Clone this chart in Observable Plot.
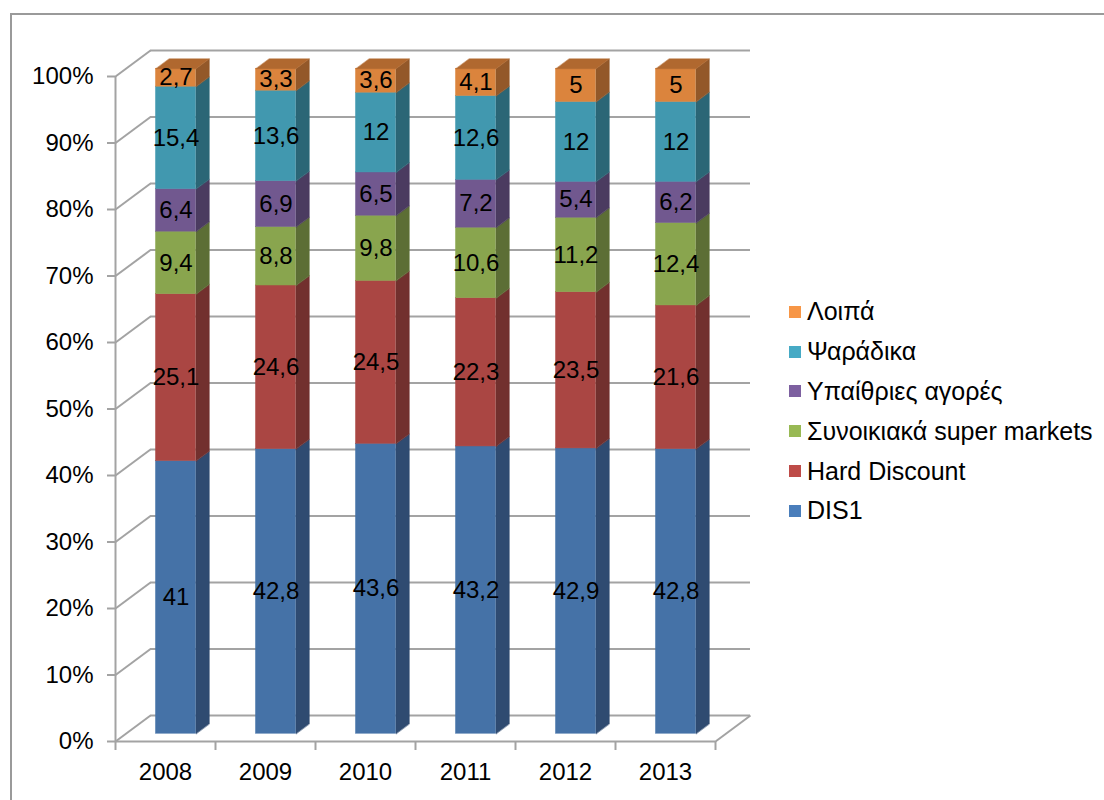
<!DOCTYPE html>
<html><head><meta charset="utf-8">
<script src="https://cdn.jsdelivr.net/npm/d3@7"></script>
<script src="https://cdn.jsdelivr.net/npm/@observablehq/plot@0.6"></script>
<style>
html,body{margin:0;padding:0;background:#fff;overflow:hidden;width:1104px;height:800px;}
#frame{position:absolute;left:10px;top:13px;width:1200px;height:900px;border:2px solid #9a9a9a;}
#chart{position:absolute;left:0;top:0;}
#legend{position:absolute;left:789px;top:292px;font-family:"Liberation Sans",Arial,sans-serif;font-size:25px;color:#000;}
.item{display:flex;align-items:center;height:39.8px;white-space:nowrap;}
.sw{width:12px;height:12px;margin-right:6px;flex:none;}
</style></head><body>
<div id="frame"></div>
<div id="chart"></div>
<div id="legend"></div>
<script>
// ---- data ----
const years = ["2008", "2009", "2010", "2011", "2012", "2013"];
const seriesNames = ["DIS1", "Hard Discount", "Συνοικιακά super markets", "Υπαίθριες αγορές", "Ψαράδικα", "Λοιπά"];
const dis1 =         [41, 42.8, 43.6, 43.2, 42.9, 42.8];
const hardDiscount = [25.1, 24.6, 24.5, 22.3, 23.5, 21.6];
const supermarkets = [9.4, 8.8, 9.8, 10.6, 11.2, 12.4];
const outdoor =      [6.4, 6.9, 6.5, 7.2, 5.4, 6.2];
const fishmongers =  [15.4, 13.6, 12, 12.6, 12, 12];
const other =        [2.7, 3.3, 3.6, 4.1, 5, 5];
const yTicks = [0, 10, 20, 30, 40, 50, 60, 70, 80, 90, 100];

// ---- styles ----
const frontColors = ["#4572A7", "#AA4643", "#89A54E", "#71588F", "#4198AF", "#DB843D"];
const sideColors  = ["#2F4B71", "#72302E", "#5C6E35", "#4B3B60", "#2B6676", "#935829"];
const topColors   = ["#5479AD", "#B25A57", "#93AD62", "#7E679A", "#56A3B7", "#B0682F"];
const legendColors = ["#4A7EBB", "#BE4B48", "#98B954", "#7D60A0", "#46AAC5", "#F79646"];
const gridColor = "#a3a3a3";

const values = [dis1, hardDiscount, supermarkets, outdoor, fishmongers, other];

// 3D geometry (in data units)
const DX = 0.35, DY = 3.9;       // wall depth
const BL = 0.3, BR = 0.7;        // bar extent inside its band
const F0 = 0.3, F1 = 0.68;       // bar front / back depth fraction

const fronts = [], sides = [], tops = [], labels = [];
years.forEach((yr, i) => {
  const total = d3.sum(values, s => s[i]);
  let acc = 0;
  values.forEach((s, k) => {
    const v = s[i] / total * 100;
    const y0 = acc, y1 = acc + v;
    acc = y1;
    fronts.push({x1: i + BL + F0 * DX, x2: i + BR + F0 * DX, y1: y0 + F0 * DY, y2: y1 + F0 * DY, fill: frontColors[k]});
    const id = `s${i}-${k}`;
    const xf = i + BR + F0 * DX, xb = i + BR + F1 * DX;
    sides.push({id, x: xf, y: y0 + F0 * DY, fill: sideColors[k]});
    sides.push({id, x: xf, y: y1 + F0 * DY, fill: sideColors[k]});
    sides.push({id, x: xb, y: y1 + F1 * DY, fill: sideColors[k]});
    sides.push({id, x: xb, y: y0 + F1 * DY, fill: sideColors[k]});
    labels.push({x: i + 0.5 + F0 * DX, y: (y0 + y1) / 2 + F0 * DY, text: String(s[i]).replace(".", ",")});
    if (k === values.length - 1) {
      const tid = `t${i}`;
      tops.push({id: tid, x: i + BL + F0 * DX, y: y1 + F0 * DY, fill: topColors[k]});
      tops.push({id: tid, x: i + BR + F0 * DX, y: y1 + F0 * DY, fill: topColors[k]});
      tops.push({id: tid, x: i + BR + F1 * DX, y: y1 + F1 * DY, fill: topColors[k]});
      tops.push({id: tid, x: i + BL + F1 * DX, y: y1 + F1 * DY, fill: topColors[k]});
    }
  });
});

const bandEdges = d3.range(years.length + 1);
const bandCenters = years.map((d, i) => i + 0.5);

const chart = Plot.plot({
  width: 1104,
  height: 800,
  marginLeft: 115,
  marginRight: 389,
  marginTop: 76,
  marginBottom: 59,
  x: {domain: [0, years.length]},
  y: {domain: [0, 100]},
  color: {type: "identity"},
  style: {fontFamily: "'Liberation Sans', Arial, sans-serif", fontSize: "24px", color: "#000", background: "transparent", overflow: "visible"},
  marks: [
    // back wall gridlines
    Plot.ruleY(yTicks, {y: d => d + DY, x1: DX, x2: years.length + DX, stroke: gridColor, strokeWidth: 2}),
    // side wall diagonals
    Plot.link(yTicks, {x1: 0, y1: d => d, x2: DX, y2: d => d + DY, stroke: gridColor, strokeWidth: 2}),
    // floor right edge
    Plot.link([0], {x1: years.length, y1: 0, x2: years.length + DX, y2: DY, stroke: gridColor, strokeWidth: 2}),
    // axis lines
    Plot.ruleX([0], {y1: 0, y2: 100, stroke: gridColor, strokeWidth: 2}),
    Plot.ruleY([0], {x1: 0, x2: years.length, stroke: gridColor, strokeWidth: 2}),
    // axes
    Plot.axisY(yTicks, {tickSize: 8, tickPadding: 14, tickFormat: d => d + "%", fontSize: 24, stroke: gridColor, strokeWidth: 2}),
    Plot.axisX(bandEdges, {tickSize: 9, tickFormat: () => "", stroke: gridColor, strokeWidth: 2}),
    Plot.axisX(bandCenters, {tickSize: 0, tickPadding: 21, tickFormat: d => years[Math.floor(d)], fontSize: 24}),
    // bars
    Plot.rect(fronts, {x1: "x1", x2: "x2", y1: "y1", y2: "y2", fill: "fill", stroke: "fill", strokeWidth: 0.5}),
    Plot.line(sides, {x: "x", y: "y", z: "id", fill: "fill", stroke: "fill", strokeWidth: 0.5, curve: "linear-closed"}),
    Plot.line(tops, {x: "x", y: "y", z: "id", fill: "fill", stroke: "fill", strokeWidth: 0.5, curve: "linear-closed"}),
    // labels
    Plot.text(labels, {x: "x", y: "y", text: "text", fontSize: 24, fill: "#000"})
  ]
});
document.getElementById("chart").appendChild(chart);

// legend (top to bottom: reverse of stacking order)
const legend = document.getElementById("legend");
seriesNames.map((name, k) => ({name, color: legendColors[k]})).reverse().forEach(d => {
  const row = document.createElement("div");
  row.className = "item";
  const sw = document.createElement("span");
  sw.className = "sw";
  sw.style.background = d.color;
  const t = document.createElement("span");
  t.textContent = d.name;
  row.appendChild(sw);
  row.appendChild(t);
  legend.appendChild(row);
});
</script>
</body></html>
